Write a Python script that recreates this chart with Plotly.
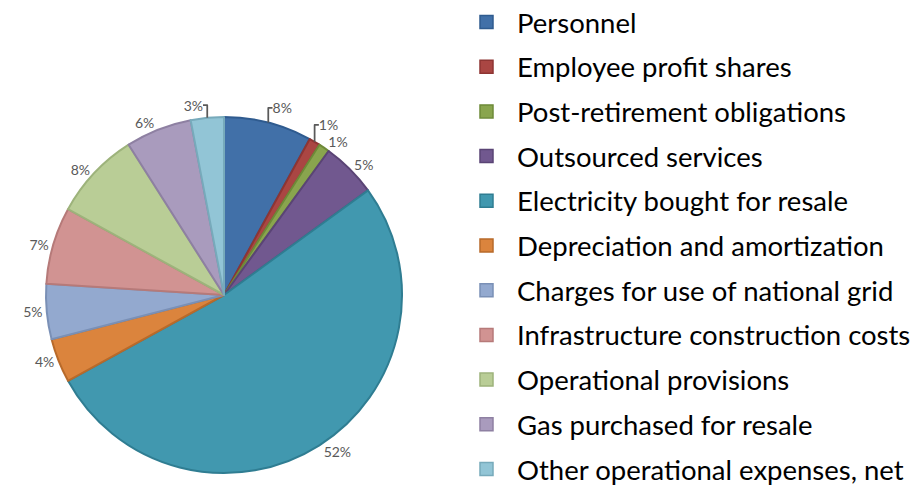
import plotly.graph_objects as go

# the page body has an 8px margin, so the figure is 8px smaller and shifted
OFF = 8
W, H = 919 - OFF, 486 - OFF

categories = [
    "Personnel",
    "Employee profit shares",
    "Post-retirement obligations",
    "Outsourced services",
    "Electricity bought for resale",
    "Depreciation and amortization",
    "Charges for use of national grid",
    "Infrastructure construction costs",
    "Operational provisions",
    "Gas purchased for resale",
    "Other operational expenses, net",
]
shares = [8, 1, 1, 5, 52, 4, 5, 7, 8, 6, 3]

fill_colors = ["#4170A8", "#AA4643", "#89A54E", "#71588F", "#4198AF", "#DB843D",
               "#93A9CF", "#D19392", "#B9CD96", "#A99BBD", "#92C5D6"]
edge_colors = ["#2F5B8F", "#8E3533", "#6E8A38", "#5A4475", "#2F7D92", "#B86A2A",
               "#7A90B6", "#B67A79", "#9DB37B", "#8E80A2", "#77AABB"]


def px(x):
    return (x - OFF) / W


def py(y):
    return 1 - (y - OFF) / H


pie = go.Pie(
    labels=categories,
    values=shares,
    sort=False,
    direction="clockwise",
    rotation=0,
    marker=dict(colors=fill_colors, line=dict(color=edge_colors, width=2)),
    texttemplate="%{value}%",
    textposition="outside",
    textfont=dict(family="Lato, Open Sans, sans-serif", size=14, color="#595959"),
    hoverinfo="label+value",
    showlegend=False,
    domain=dict(x=[px(46), px(402)], y=[py(473), py(117)]),
)

fig = go.Figure(pie)

# hand-drawn legend so the row spacing matches the original
shapes = []
annotations = []
row0, step = 22, 44.7
for i, (name, c, e) in enumerate(zip(categories, fill_colors, edge_colors)):
    yc = row0 + i * step
    shapes.append(dict(type="rect", xref="paper", yref="paper",
                       x0=px(480), x1=px(493), y0=py(yc + 6.5), y1=py(yc - 6.5),
                       fillcolor=c, line=dict(color=e, width=1.5)))
    annotations.append(dict(xref="paper", yref="paper", x=px(515), y=py(yc),
                            text=name, showarrow=False, xanchor="left", yanchor="middle",
                            font=dict(family="Lato, Open Sans, sans-serif", size=27.5, color="#000000")))

fig.update_layout(
    width=W, height=H,
    margin=dict(l=0, r=0, t=0, b=0),
    paper_bgcolor="white",
    plot_bgcolor="white",
    shapes=shapes,
    annotations=annotations,
)

fig.write_html("out.html")
